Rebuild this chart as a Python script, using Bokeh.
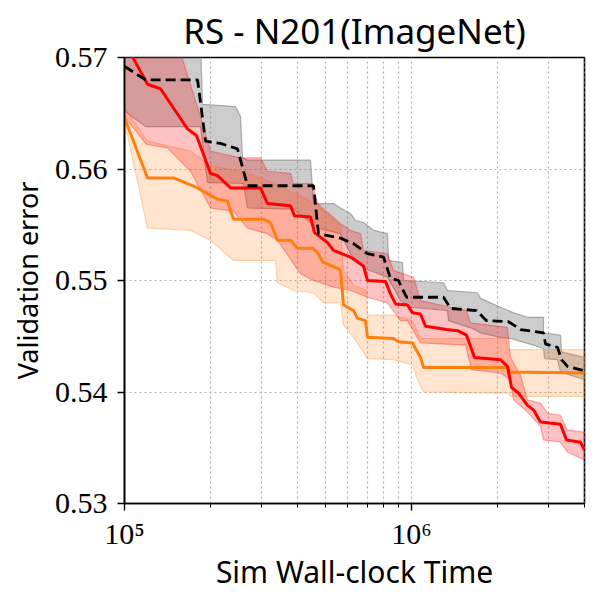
from bokeh.plotting import figure
from bokeh.models import Range1d, FixedTicker
from bokeh.embed import file_html
from bokeh.resources import INLINE

# ---------------- data ----------------
X_MAJOR = [1e5, 1e6]
X_MINOR = [2e5, 3e5, 4e5, 5e5, 6e5, 7e5, 8e5, 9e5, 2e6, 3e6, 4e6]
X_LABELS = {100000: "10\u2075", 1000000: "10\u2076"}
Y_TICKS = [0.53, 0.54, 0.55, 0.56, 0.57]

# black dashed series (gray band)
black_x = [1.000e5, 1.184e5, 1.797e5, 1.915e5, 2.160e5, 2.476e5, 2.683e5, 4.555e5, 4.742e5, 5.657e5,
           6.281e5, 7.026e5, 7.989e5, 8.449e5, 9.011e5, 9.607e5, 1.293e6, 1.368e6, 1.685e6, 1.825e6,
           2.178e6, 2.398e6, 2.884e6, 2.931e6, 3.227e6, 3.332e6, 3.497e6, 4.007e6]
black_y = [0.5692, 0.5680, 0.5680, 0.5625, 0.5623, 0.5618, 0.5585, 0.5585, 0.5542, 0.5538,
           0.5533, 0.5524, 0.5521, 0.5502, 0.5500, 0.5485, 0.5485, 0.5475, 0.5473, 0.5464,
           0.5463, 0.5456, 0.5453, 0.5443, 0.5440, 0.5429, 0.5423, 0.5419]
black_up_x = [1.000e5, 1.840e5, 1.870e5, 2.437e5, 2.536e5, 2.577e5, 2.683e5, 4.447e5, 4.555e5, 5.348e5,
              5.657e5, 6.131e5, 6.382e5, 6.804e5, 7.373e5, 8.250e5, 8.317e5, 9.304e5, 9.378e5, 1.293e6,
              1.335e6, 1.698e6, 1.740e6, 2.042e6, 2.267e6, 2.536e6, 2.884e6, 2.884e6, 3.305e6, 3.332e6, 4.007e6]
black_up_y = [0.5714, 0.5714, 0.5658, 0.5656, 0.5647, 0.5610, 0.5608, 0.5608, 0.5569, 0.5569,
              0.5565, 0.5560, 0.5554, 0.5552, 0.5545, 0.5542, 0.5518, 0.5516, 0.5500, 0.5498,
              0.5491, 0.5489, 0.5484, 0.5476, 0.5471, 0.5467, 0.5467, 0.5453, 0.5451, 0.5436, 0.5431]
black_lo_x = [1.000e5, 1.184e5, 1.840e5, 1.946e5, 2.598e5, 2.683e5, 3.880e5, 4.704e5, 5.657e5, 6.131e5,
              6.804e5, 8.250e5, 9.156e5, 9.920e5, 1.335e6, 1.346e6, 1.631e6, 1.740e6, 2.042e6, 2.213e6,
              2.661e6, 2.884e6, 2.907e6, 3.227e6, 3.305e6, 4.007e6]
black_lo_y = [0.5652, 0.5638, 0.5638, 0.5588, 0.5587, 0.5565, 0.5564, 0.5547, 0.5542, 0.5524,
              0.5511, 0.5503, 0.5482, 0.5476, 0.5473, 0.5464, 0.5457, 0.5453, 0.5449, 0.5448,
              0.5442, 0.5439, 0.5430, 0.5429, 0.5418, 0.5411]

# red series
red_x = [1.000e5, 1.075e5, 1.203e5, 1.335e5, 1.658e5, 1.782e5, 1.994e5, 2.109e5, 2.341e5, 2.978e5,
         3.150e5, 3.788e5, 3.911e5, 4.447e5, 4.592e5, 5.097e5, 5.348e5, 6.131e5, 6.804e5, 7.026e5,
         8.119e5, 8.449e5, 8.797e5, 9.685e5, 1.008e6, 1.075e6, 1.119e6, 1.324e6, 1.447e6, 1.555e6,
         1.606e6, 1.658e6, 2.042e6, 2.160e6, 2.231e6, 2.360e6, 2.536e6, 2.661e6, 2.815e6, 3.305e6,
         3.469e6, 3.880e6, 4.007e6]
red_y = [0.5710, 0.5699, 0.5676, 0.5672, 0.5636, 0.5630, 0.5596, 0.5594, 0.5583, 0.5583,
         0.5569, 0.5567, 0.5558, 0.5557, 0.5543, 0.5534, 0.5527, 0.5521, 0.5513, 0.5500,
         0.5499, 0.5488, 0.5479, 0.5478, 0.5471, 0.5470, 0.5459, 0.5456, 0.5455, 0.5451,
         0.5441, 0.5431, 0.5429, 0.5423, 0.5404, 0.5399, 0.5388, 0.5384, 0.5373, 0.5371,
         0.5357, 0.5355, 0.5348]
red_up_x = [1.000e5, 1.543e5, 1.840e5, 1.994e5, 2.536e5, 2.978e5, 3.150e5, 3.788e5, 3.880e5, 4.519e5,
            4.704e5, 5.657e5, 6.131e5, 6.642e5, 6.804e5, 8.250e5, 8.656e5, 1.016e6, 1.075e6, 1.368e6,
            1.555e6, 1.606e6, 2.160e6, 2.213e6, 2.398e6, 2.536e6, 2.815e6, 2.978e6, 3.305e6, 3.497e6, 4.007e6]
red_up_y = [0.5714, 0.5710, 0.5647, 0.5616, 0.5610, 0.5610, 0.5598, 0.5596, 0.5587, 0.5587,
            0.5569, 0.5551, 0.5545, 0.5542, 0.5527, 0.5524, 0.5509, 0.5503, 0.5482, 0.5476,
            0.5473, 0.5462, 0.5458, 0.5431, 0.5415, 0.5393, 0.5390, 0.5381, 0.5379, 0.5366, 0.5364]
red_lo_x = [1.000e5, 1.193e5, 1.412e5, 1.698e5, 1.994e5, 2.398e5, 2.683e5, 3.150e5, 3.413e5, 4.105e5,
            4.555e5, 5.348e5, 6.131e5, 7.026e5, 8.250e5, 9.156e5, 9.685e5, 1.075e6, 1.543e6, 1.619e6,
            2.042e6, 2.213e6, 2.267e6, 2.536e6, 2.815e6, 2.884e6, 3.305e6, 3.497e6, 4.007e6]
red_lo_y = [0.5647, 0.5622, 0.5619, 0.5598, 0.5565, 0.5562, 0.5547, 0.5542, 0.5536, 0.5506,
            0.5500, 0.5494, 0.5491, 0.5485, 0.5480, 0.5464, 0.5464, 0.5444, 0.5442, 0.5420,
            0.5417, 0.5411, 0.5393, 0.5382, 0.5369, 0.5357, 0.5355, 0.5346, 0.5339]

# orange series
orange_x = [1.000e5, 1.203e5, 1.482e5, 1.797e5, 2.109e5, 2.285e5, 2.398e5, 3.050e5, 3.226e5, 3.413e5,
            3.788e5, 4.007e5, 4.519e5, 4.704e5, 4.936e5, 5.523e5, 5.657e5, 5.795e5, 6.281e5, 6.486e5,
            6.914e5, 7.026e5, 8.656e5, 9.011e5, 1.008e6, 1.075e6, 1.101e6, 2.160e6, 2.213e6, 4.007e6]
orange_y = [0.5646, 0.5592, 0.5592, 0.5583, 0.5573, 0.5571, 0.5555, 0.5555, 0.5552, 0.5536,
            0.5536, 0.5529, 0.5529, 0.5525, 0.5516, 0.5511, 0.5509, 0.5478, 0.5473, 0.5466,
            0.5464, 0.5449, 0.5448, 0.5445, 0.5444, 0.5431, 0.5422, 0.5422, 0.5418, 0.5417]
orange_up_x = [1.000e5, 1.203e5, 1.698e5, 1.994e5, 2.536e5, 3.050e5, 3.413e5, 4.105e5, 4.704e5, 5.657e5,
               5.795e5, 6.281e5, 6.970e5, 7.026e5, 8.656e5, 1.008e6, 1.075e6, 2.126e6, 2.178e6, 4.007e6]
orange_up_y = [0.5655, 0.5625, 0.5616, 0.5603, 0.5598, 0.5591, 0.5585, 0.5576, 0.5567, 0.5549,
               0.5509, 0.5496, 0.5491, 0.5469, 0.5469, 0.5464, 0.5448, 0.5448, 0.5438, 0.5438]
orange_lo_x = [1.000e5, 1.203e5, 1.698e5, 1.994e5, 2.398e5, 3.359e5, 3.413e5, 3.880e5, 4.555e5, 4.936e5,
               5.657e5, 5.795e5, 6.281e5, 7.026e5, 8.656e5, 1.016e6, 1.041e6, 1.101e6, 2.160e6, 2.213e6, 4.007e6]
orange_lo_y = [0.5643, 0.5547, 0.5545, 0.5536, 0.5518, 0.5518, 0.5498, 0.5491, 0.5489, 0.5480,
               0.5480, 0.5460, 0.5449, 0.5430, 0.5429, 0.5424, 0.5413, 0.5400, 0.5399, 0.5396, 0.5396]

# ---------------- figure ----------------
p = figure(width=598, height=600, x_axis_type="log",
           x_range=Range1d(1e5, 4.007e6), y_range=Range1d(0.53, 0.57),
           output_backend="svg", toolbar_location=None,
           min_border_left=124, min_border_right=14, min_border_top=56, min_border_bottom=97,
           title="RS - N201(ImageNet)")

p.title.text_font = "Noto Sans"
p.title.text_font_size = "35px"
p.title.text_font_style = "normal"
p.title.text_color = "black"
p.title.align = "center"
p.title.standoff = 8

p.outline_line_color = "black"
p.outline_line_width = 1.6
p.outline_line_alpha = 1.0


def band(xu, yu, xl, yl, color, fill_alpha, line_alpha):
    xs = list(xu) + list(xl)[::-1]
    ys = list(yu) + list(yl)[::-1]
    p.patch(xs, ys, fill_color=color, fill_alpha=fill_alpha,
            line_color=color, line_alpha=line_alpha, line_width=1.2)


band(black_up_x, black_up_y, black_lo_x, black_lo_y, "#808080", 0.4, 0.6)
band(orange_up_x, orange_up_y, orange_lo_x, orange_lo_y, "#ff7f0e", 0.2, 0.3)
band(red_up_x, red_up_y, red_lo_x, red_lo_y, "#ff0000", 0.24, 0.3)

p.line(orange_x, orange_y, line_color="#ff7f0e", line_width=3)
p.line(red_x, red_y, line_color="#ff0000", line_width=3)
p.line(black_x, black_y, line_color="black", line_width=2.8, line_dash="10 5")

# axes
xa = p.xaxis[0]
xa.ticker = FixedTicker(ticks=X_MAJOR, minor_ticks=X_MINOR)
xa.major_label_overrides = X_LABELS
ya = p.yaxis[0]
ya.ticker = FixedTicker(ticks=Y_TICKS)
ya.major_label_overrides = {v: f"{v:.2f}" for v in Y_TICKS}

for ax in (xa, ya):
    ax.axis_line_color = "black"
    ax.axis_line_width = 1.6
    ax.major_tick_line_color = "black"
    ax.major_tick_line_width = 1.4
    ax.minor_tick_line_color = "black"
    ax.minor_tick_line_width = 1.0
    ax.major_tick_in = 0
    ax.major_tick_out = 7
    ax.minor_tick_in = 0
    ax.minor_tick_out = 4
    ax.major_label_text_font = "Liberation Serif"
    ax.major_label_text_font_size = "30px"
    ax.major_label_text_color = "black"
    ax.axis_label_text_font = "Noto Sans"
    ax.axis_label_text_font_style = "normal"
    ax.axis_label_text_color = "black"

xa.axis_label_text_font_size = "30px"
ya.axis_label_text_font_size = "27px"
ya.minor_tick_line_color = None
xa.axis_label = "Sim Wall-clock Time"
ya.axis_label = "Validation error"
xa.major_label_standoff = 6
ya.major_label_standoff = 10
xa.axis_label_standoff = -2
ya.axis_label_standoff = 6

for g in (p.xgrid[0], p.ygrid[0]):
    g.grid_line_color = "#b0b0b0"
    g.grid_line_dash = "2 3"
    g.grid_line_width = 1.2
p.xgrid[0].minor_grid_line_color = "#b0b0b0"
p.xgrid[0].minor_grid_line_dash = "2 3"
p.xgrid[0].minor_grid_line_width = 1.2

open("out.html", "w").write(file_html(p, INLINE))
